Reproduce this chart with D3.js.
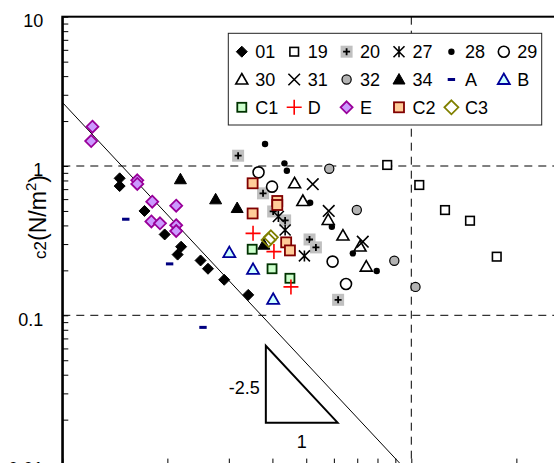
<!DOCTYPE html>
<html>
<head>
<meta charset="utf-8">
<script src="https://cdn.jsdelivr.net/npm/d3@7"></script>
<style>
  body { margin: 0; background: #fff; }
  svg { display: block; font-family: Arial, "Liberation Sans", sans-serif; }
</style>
</head>
<body>
<script>
// 各系列数据 [x, c2]，从图上读出的估计值
const s01 = [[1.46,0.827],[1.46,0.734],[1.72,0.50],[1.965,0.348],[2.19,0.288],[2.14,0.255],[2.49,0.233],[2.615,0.205],[2.91,0.173],[3.41,0.137]];
const s19 = [[8.53,1.016],[10.54,0.746],[12.49,0.507],[14.73,0.430],[17.57,0.247]];
const s20 = [[3.19,1.172],[3.76,0.656],[4.02,0.496],[4.35,0.432],[5.11,0.322],[5.33,0.285],[6.17,0.127]];
const s27 = [[4.16,0.459],[4.35,0.373],[4.94,0.250]];
const s28 = [[3.81,1.404],[4.33,1.042],[4.40,0.930],[5.13,0.568],[5.92,0.392],[6.80,0.260],[7.96,0.198]];
const s29 = [[3.65,0.907],[3.99,0.727],[5.95,0.229],[6.50,0.162]];
const s30 = [[4.63,0.766],[4.89,0.583],[5.78,0.435],[6.37,0.342],[7.13,0.289],[7.43,0.212]];
const s31 = [[5.22,0.755],[5.80,0.500],[7.26,0.311]];
const s32 = [[5.82,0.959],[6.98,0.507],[8.94,0.232],[10.28,0.155]];
const s34 = [[2.18,0.815],[2.75,0.598],[3.17,0.523],[3.78,0.297]];
const sA  = [[1.52,0.440],[2.03,0.221],[2.53,0.083]];
const sB  = [[3.01,0.263],[3.52,0.203],[4.02,0.128]];
const sC1 = [[3.50,0.277],[3.99,0.205],[4.49,0.177]];
const sD  = [[3.52,0.354],[4.04,0.267],[4.52,0.155]];
const sE  = [[1.22,1.833],[1.21,1.47],[1.64,0.802],[1.64,0.758],[1.81,0.577],[2.12,0.542],[1.80,0.425],[1.905,0.413],[2.12,0.401],[2.12,0.367]];
const sC2 = [[3.51,0.766],[4.13,0.583],[4.13,0.548],[3.51,0.481],[4.38,0.308],[4.49,0.272]];
const sC3 = [[3.96,0.333],[3.90,0.319]];

const seriesNames = ["01","19","20","27","28","29","30","31","32","34","A","B","C1","D","E","C2","C3"];
const seriesData  = [s01,s19,s20,s27,s28,s29,s30,s31,s32,s34,sA,sB,sC1,sD,sE,sC2,sC3];

const yTickLabels = {"0.01":"0.01","0.1":"0.1","1":"1","10":"10"};

// 斜率 -2.5 的参考线 c2 = k * x^-2.5
const refK = 2.67, refSlope = -2.5;
// 斜率三角形
const triX = [3.83, 6.15], triYBottom = 0.0191;

const width = 554, height = 463;
const margin = { left: 62.3, top: 16.7 };

const x = d3.scaleLog().domain([1, 100]).range([margin.left, margin.left + 698]);
const y = d3.scaleLog().domain([0.01, 10]).range([464.6, margin.top]);

const svg = d3.select("body").append("svg")
  .attr("width", width).attr("height", height);

svg.append("clipPath").attr("id", "plot")
  .append("rect")
  .attr("x", x(1)).attr("y", y(10))
  .attr("width", x(100) - x(1)).attr("height", y(0.01) - y(10));

// 虚线
const gGrid = svg.append("g")
  .attr("stroke", "#000").attr("stroke-width", 1).attr("stroke-dasharray", "8,6");
[1, 0.1].forEach(v => {
  gGrid.append("line")
    .attr("x1", x(1)).attr("x2", x(100))
    .attr("y1", y(v)).attr("y2", y(v));
});
gGrid.append("line")
  .attr("x1", x(10)).attr("x2", x(10))
  .attr("y1", y(10)).attr("y2", y(0.01));

// 参考线
const refLine = d3.line().x(d => x(d)).y(d => y(refK * Math.pow(d, refSlope)));
svg.append("path")
  .attr("clip-path", "url(#plot)")
  .attr("d", refLine([1, 12]))
  .attr("fill", "none").attr("stroke", "#000").attr("stroke-width", 1);

// 斜率三角形
const triTop = triYBottom * Math.pow(triX[1] / triX[0], -refSlope);
svg.append("path")
  .attr("d", `M${x(triX[0])},${y(triTop)}L${x(triX[0])},${y(triYBottom)}L${x(triX[1])},${y(triYBottom)}Z`)
  .attr("fill", "none").attr("stroke", "#000").attr("stroke-width", 2);
svg.append("text")
  .attr("x", x(triX[0]) - 6).attr("y", (y(triTop) + y(triYBottom)) / 2 + 10)
  .attr("text-anchor", "end").attr("font-size", 18).text("-2.5");
svg.append("text")
  .attr("x", (x(triX[0]) + x(triX[1])) / 2).attr("y", y(triYBottom) + 25)
  .attr("text-anchor", "middle").attr("font-size", 18).text("1");

// 坐标轴
const yAxis = d3.axisLeft(y)
  .tickValues(y.ticks())
  .tickSize(-6).tickSizeOuter(0).tickPadding(19)
  .tickFormat(d => yTickLabels[String(+d.toPrecision(3))] || "");
const gy = svg.append("g").attr("transform", `translate(${x(1)},0)`).call(yAxis);
gy.selectAll("text").attr("font-size", 18).attr("font-family", "Arial, 'Liberation Sans', sans-serif").attr("dy", "0.55em").attr("fill", "#000");
gy.select(".domain").attr("stroke-width", 2);

const xAxis = d3.axisBottom(x)
  .tickValues(x.ticks())
  .tickSize(-6).tickSizeOuter(0).tickFormat("");
const gx = svg.append("g").attr("transform", `translate(0,${y(0.01)})`).call(xAxis);
gx.select(".domain").attr("stroke-width", 2);

// 外框
svg.append("rect")
  .attr("x", x(1)).attr("y", y(10))
  .attr("width", x(100) - x(1)).attr("height", y(0.01) - y(10))
  .attr("fill", "none").attr("stroke", "#000").attr("stroke-width", 2);

// y 轴标题
const ylab = svg.append("text")
  .attr("transform", "translate(46,217) rotate(-90)")
  .attr("text-anchor", "middle");
ylab.append("tspan").attr("font-size", 17).text("c2");
ylab.append("tspan").attr("font-size", 23).text("(N/m");
ylab.append("tspan").attr("font-size", 15).attr("dy", -10).text("2");
ylab.append("tspan").attr("font-size", 23).attr("dy", 10).text(")");

// 标记样式
const styles = {
  "01": { shape: "diamond", r: 5.5, fill: "#000", stroke: "#000", sw: 1 },
  "19": { shape: "square", r: 4.3, fill: "#fff", stroke: "#000", sw: 1.6 },
  "20": { shape: "plusbox", r: 6 },
  "27": { shape: "asterisk", r: 5.5, stroke: "#000", sw: 1.6 },
  "28": { shape: "circle", r: 3.2, fill: "#000", stroke: "none", sw: 0 },
  "29": { shape: "circle", r: 5.5, fill: "#fff", stroke: "#000", sw: 1.6 },
  "30": { shape: "triangle", r: 6, fill: "#fff", stroke: "#000", sw: 1.6 },
  "31": { shape: "x", r: 5.8, stroke: "#000", sw: 1.6 },
  "32": { shape: "circle", r: 4.6, fill: "#b3b3b3", stroke: "#000", sw: 1.2 },
  "34": { shape: "triangle", r: 6, fill: "#000", stroke: "#000", sw: 1 },
  "A":  { shape: "dash", fill: "#000080" },
  "B":  { shape: "triangle", r: 6, fill: "#ccffff", stroke: "#000099", sw: 1.8 },
  "C1": { shape: "square", r: 4.5, fill: "#ccffcc", stroke: "#003300", sw: 1.8 },
  "D":  { shape: "plus", r: 7.5, stroke: "#ff0000", sw: 1.6 },
  "E":  { shape: "diamond", r: 6, fill: "#cc99ff", stroke: "#990099", sw: 1.8 },
  "C2": { shape: "square", r: 5, fill: "#ffcc99", stroke: "#800000", sw: 1.8 },
  "C3": { shape: "diamond", r: 7, fill: "none", stroke: "#808000", sw: 1.8 }
};

function marker(g, key, cx, cy) {
  const st = styles[key];
  const r = st.r;
  const m = g.append("g").attr("transform", `translate(${cx},${cy})`);
  switch (st.shape) {
    case "diamond":
      m.append("path").attr("d", `M0,${-r}L${r},0L0,${r}L${-r},0Z`)
        .attr("fill", st.fill).attr("stroke", st.stroke).attr("stroke-width", st.sw).attr("stroke-linejoin", "miter");
      break;
    case "square":
      m.append("rect").attr("x", -r).attr("y", -r).attr("width", 2 * r).attr("height", 2 * r)
        .attr("fill", st.fill).attr("stroke", st.stroke).attr("stroke-width", st.sw);
      break;
    case "circle":
      m.append("circle").attr("r", r)
        .attr("fill", st.fill).attr("stroke", st.stroke).attr("stroke-width", st.sw);
      break;
    case "triangle":
      m.append("path").attr("d", `M0,${-r}L${r},${r * 0.75}L${-r},${r * 0.75}Z`)
        .attr("fill", st.fill).attr("stroke", st.stroke).attr("stroke-width", st.sw).attr("stroke-linejoin", "miter");
      break;
    case "plusbox":
      m.append("rect").attr("x", -r).attr("y", -r).attr("width", 2 * r).attr("height", 2 * r).attr("fill", "#c0c0c0");
      m.append("path").attr("d", "M-3.5,0H3.5M0,-3.5V3.5").attr("stroke", "#000").attr("stroke-width", 1.8);
      break;
    case "asterisk":
      m.append("path").attr("d", `M${-r},${-r}L${r},${r}M${-r},${r}L${r},${-r}M0,${-r}V${r}`)
        .attr("stroke", st.stroke).attr("stroke-width", st.sw);
      break;
    case "x":
      m.append("path").attr("d", `M${-r},${-r}L${r},${r}M${-r},${r}L${r},${-r}`)
        .attr("stroke", st.stroke).attr("stroke-width", st.sw);
      break;
    case "plus":
      m.append("path").attr("d", `M${-r},0H${r}M0,${-r}V${r}`)
        .attr("stroke", st.stroke).attr("stroke-width", st.sw);
      break;
    case "dash":
      m.append("rect").attr("x", -3.7).attr("y", -1.5).attr("width", 7.4).attr("height", 3).attr("fill", st.fill);
      break;
  }
}

// 数据点
const gPts = svg.append("g").attr("clip-path", "url(#plot)");
seriesNames.forEach((name, i) => {
  seriesData[i].forEach(d => marker(gPts, name, x(d[0]), y(d[1])));
});

// 图例
const legend = svg.append("g");
legend.append("rect")
  .attr("x", 228.3).attr("y", 33.3).attr("width", 313.4).attr("height", 91.7)
  .attr("fill", "#fff").attr("stroke", "#222").attr("stroke-width", 1);
const legendRows = [seriesNames.slice(0, 6), seriesNames.slice(6, 12), seriesNames.slice(12)];
legendRows.forEach((row, ri) => {
  const cy = 51.7 + ri * 27.8;
  row.forEach((name, ci) => {
    const tx = 255.3 + ci * 52.4;
    marker(legend, name, tx - 13.5, cy);
    legend.append("text")
      .attr("x", tx).attr("y", cy + 6.5)
      .attr("font-size", 18).text(name);
  });
});
</script>
</body>
</html>
